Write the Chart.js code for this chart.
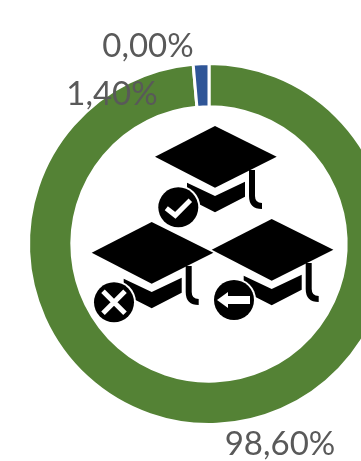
<!DOCTYPE html>
<html>
<head>
<meta charset="utf-8">
<title>Donut</title>
<script src="https://cdn.jsdelivr.net/npm/chart.js@4"></script>
<style>
    html, body { margin: 0; padding: 0; background: #fff; }
    #wrap { position: relative; width: 361px; height: 461px; overflow: hidden; }
    #donut { position: absolute; left: 0; top: 0; }
    #icons { position: absolute; left: 0; top: 0; }
</style>
</head>
<body>
<div id="wrap">
    <canvas id="donut" width="418" height="488"></canvas>
    <!-- Icon in the hole of the ring: three caps with a badge each -->
    <svg id="icons" width="361" height="461" viewBox="0 0 361 461">
        <defs>
            <g id="cap">
                <path d="M-60 30.7 L0 0 L61.7 30.7 L0 61.7 Z" fill="#000"/>
                <path d="M-28 56.7 L0 70 L30 55.7 V70.7 L0 86.3 L-28 72 Z" fill="#000"/>
                <path d="M37 44 V70 Q37 80 47 80" fill="none" stroke="#000" stroke-width="6"/>
            </g>
            <g id="badge">
                <circle r="22" fill="#fff"/>
                <circle r="20" fill="#000"/>
            </g>
        </defs>
        <use href="#cap" x="215" y="126"/>
        <use href="#cap" x="151.7" y="222"/>
        <use href="#cap" x="271.7" y="219"/>

        <use href="#badge" x="178.3" y="207.3"/>
        <path d="M166.3 208.3 L175.3 215.3 L190.3 200.3" fill="none" stroke="#fff" stroke-width="5"/>

        <use href="#badge" x="114" y="302.3"/>
        <path d="M103 291.3 L125 313.3 M125 291.3 L103 313.3" fill="none" stroke="#fff" stroke-width="5"/>

        <use href="#badge" x="234" y="300"/>
        <path d="M217 300 L228 292 V296 H250 V304 H228 V308 Z" fill="#fff"/>
    </svg>
</div>

<script>
    const categories = ['Check', 'Cross', 'Arrow'];
    const seriesValues = [98.6, 1.4, 0];
    const valueLabels = ['98,60%', '1,40%', '0,00%'];
    const sliceColors = ['#548235', '#2f5597', '#c9c9c9'];

    // Labels were placed by hand in the original, so each one is shifted off its slice.
    const labelShift = [[64, 42], [-90, 9], [-61, -39]];

    const sliceLabels = {
        id: 'sliceLabels',
        afterDatasetsDraw: function (chart) {
            const ctx = chart.ctx;
            const arcs = chart.getDatasetMeta(0).data;
            ctx.save();
            ctx.font = '33px Lato, "Open Sans", sans-serif';
            ctx.fillStyle = '#595959';
            ctx.textAlign = 'center';
            ctx.textBaseline = 'middle';
            arcs.forEach(function (arc, i) {
                const pos = arc.tooltipPosition();
                ctx.fillText(valueLabels[i], pos.x + labelShift[i][0], pos.y + labelShift[i][1]);
            });
            ctx.restore();
        }
    };

    new Chart(document.getElementById('donut').getContext('2d'), {
        type: 'doughnut',
        data: {
            labels: categories,
            datasets: [{
                data: seriesValues,
                backgroundColor: sliceColors,
                borderColor: '#ffffff',
                borderWidth: 3
            }]
        },
        options: {
            responsive: false,
            animation: false,
            cutout: '76%',
            layout: { padding: 27 },
            plugins: {
                legend: { display: false },
                tooltip: { enabled: false }
            }
        },
        plugins: [sliceLabels]
    });
</script>
</body>
</html>
